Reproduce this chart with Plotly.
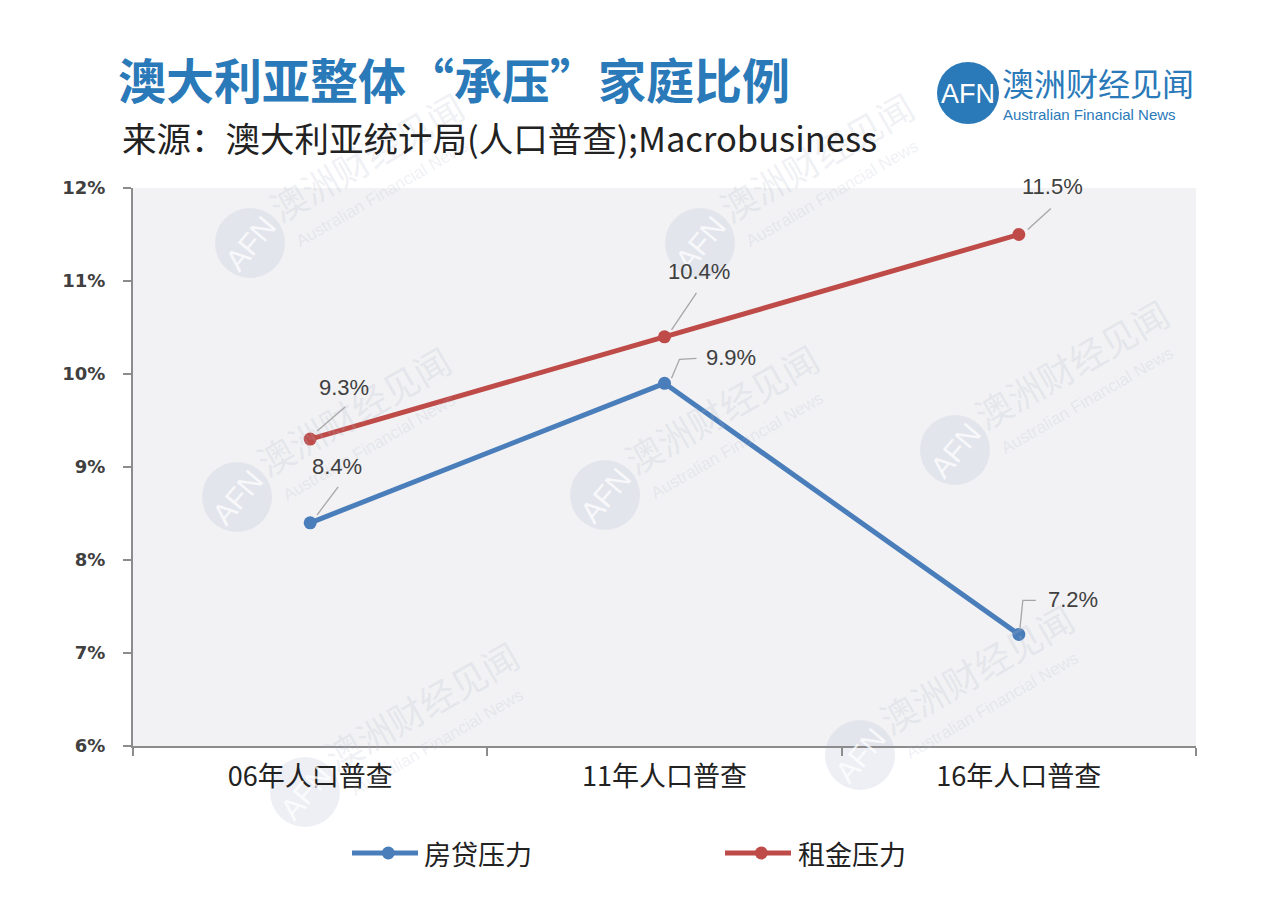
import plotly.graph_objects as go

# ---------------- data ----------------
categories = ["06年人口普查", "11年人口普查", "16年人口普查"]
mortgage_stress = [8.4, 9.9, 7.2]   # 房贷压力 (%)
rent_stress = [9.3, 10.4, 11.5]     # 租金压力 (%)
series_names = ["房贷压力", "租金压力"]
y_tick_values = [6, 7, 8, 9, 10, 11, 12]
y_tick_labels = ["6%", "7%", "8%", "9%", "10%", "11%", "12%"]

title_text = "澳大利亚整体“承压”家庭比例"
subtitle_text = "来源：澳大利亚统计局(人口普查);Macrobusiness"

# ---------------- styling / layout ----------------
W, H = 1280, 905
L, R, T, B = 133, 84, 188, 159
PW, PH = W - L - R, H - T - B

BLUE = "#4a7ebb"
RED = "#be4b48"
BRAND = "#2a79b8"
CJK = "Noto Sans CJK SC"
series_colors = [BLUE, RED]


def px(x):
    return (x - L) / PW


def py(y):
    return (H - B - y) / PH


# label offsets (pixels, right / up) and leader paths for each point
mortgage_label_off = [(27, 56), (66, 26), (54, 35)]
rent_label_off = [(34, 52), (34, 65), (34, 48)]
mortgage_leaders = [[(7, 8), (28, 36)], [(7, 5), (15, 24), (32, 25)], [(1, 5), (4, 34), (17, 34)]]
rent_leaders = [[(7, 8), (35, 32)], [(7, 7), (32, 44)], [(9, 5), (32, 26)]]

fig = go.Figure()

for name, vals, col in zip(series_names, [mortgage_stress, rent_stress], series_colors):
    fig.add_trace(go.Scatter(
        x=categories, y=vals, name=name, mode="lines+markers",
        line=dict(color=col, width=5), marker=dict(color=col, size=13),
        hoverinfo="skip", showlegend=False))

shapes = []
annotations = []


def note(x, y, text, font, **kw):
    d = dict(xref="paper", yref="paper", x=px(x), y=py(y), text=text, showarrow=False,
             xanchor="center", yanchor="middle", font=font)
    d.update(kw)
    annotations.append(d)


# ---- watermarks (faint) ----
wm_centers = [(250, 243), (237, 497), (700, 243), (605, 495), (955, 450), (860, 755), (305, 792)]
for cx, cy in wm_centers:
    shapes.append(dict(type="circle", xref="paper", yref="paper",
                       xsizemode="pixel", ysizemode="pixel",
                       xanchor=px(cx), yanchor=py(cy), x0=-35, x1=35, y0=-35, y1=35,
                       fillcolor="rgba(185,192,215,0.26)", line=dict(width=0), layer="below"))
    note(cx, cy, "AFN", dict(family="Liberation Sans", size=30, color="rgba(255,255,255,0.75)"),
         textangle=-50)
    note(cx + 116, cy - 87, "澳洲财经见闻", dict(family=CJK, size=36, color="rgba(175,182,200,0.2)"),
         textangle=-30)
    note(cx + 132, cy - 50, "Australian Financial News",
         dict(family="Liberation Sans", size=17, color="rgba(175,182,200,0.2)"), textangle=-30)

# ---- data labels + leader lines ----
for vals, offs, leaders in [(mortgage_stress, mortgage_label_off, mortgage_leaders),
                            (rent_stress, rent_label_off, rent_leaders)]:
    for cat, v, (dx, dy), pts in zip(categories, vals, offs, leaders):
        path = "M " + " L ".join(f"{a},{b}" for a, b in pts)
        shapes.append(dict(type="path", xref="x", yref="y", xsizemode="pixel", ysizemode="pixel",
                           xanchor=cat, yanchor=v, path=path,
                           line=dict(color="#a6a6a6", width=1.3)))
        annotations.append(dict(x=cat, y=v, xref="x", yref="y", text=f"{v:.1f}%",
                                showarrow=False, xshift=dx, yshift=dy,
                                xanchor="center", yanchor="middle",
                                font=dict(family="Liberation Sans", size=22, color="#404040")))

# ---- legend (drawn below the axis) ----
legend_line_x = [(352, 418), (725, 791)]
legend_text_x = [422, 796]
LEG_Y = 853
for name, col, (x0, x1), tx in zip(series_names, series_colors, legend_line_x, legend_text_x):
    shapes.append(dict(type="line", xref="paper", yref="paper", x0=px(x0), x1=px(x1),
                       y0=py(LEG_Y), y1=py(LEG_Y), line=dict(color=col, width=5)))
    mx = x0 + 0.55 * (x1 - x0)
    shapes.append(dict(type="circle", xref="paper", yref="paper", xsizemode="pixel", ysizemode="pixel",
                       xanchor=px(mx), yanchor=py(LEG_Y), x0=-6.5, x1=6.5, y0=-6.5, y1=6.5,
                       fillcolor=col, line=dict(width=0)))
    note(tx, LEG_Y, name, dict(family=CJK, size=27, color="#222222"), xanchor="left")

# ---- title / subtitle ----
note(116, 78, f"<b>{title_text}</b>", dict(family=CJK, size=48, color=BRAND), xanchor="left")
note(120, 137, subtitle_text, dict(family=CJK, size=34.5, color="#222222"), xanchor="left")

# ---- logo ----
shapes.append(dict(type="circle", xref="paper", yref="paper", xsizemode="pixel", ysizemode="pixel",
                   xanchor=px(968), yanchor=py(93), x0=-31, x1=31, y0=-31, y1=31,
                   fillcolor=BRAND, line=dict(width=0)))
note(968, 94, "AFN", dict(family="Liberation Sans", size=27, color="white"))
note(1000, 82, "澳洲财经见闻", dict(family=CJK, size=32, color=BRAND), xanchor="left")
note(1001, 114.5, "Australian Financial News", dict(family="Liberation Sans", size=15, color=BRAND),
     xanchor="left")

fig.update_layout(
    width=W, height=H, autosize=False,
    margin=dict(l=L, r=R, t=T, b=B, pad=0),
    paper_bgcolor="white", plot_bgcolor="#f2f2f4",
    showlegend=False,
    shapes=shapes, annotations=annotations,
    xaxis=dict(type="category", range=[-0.5, 2.5], tickson="boundaries",
               showline=True, linecolor="#8c8c8c", linewidth=2,
               ticks="outside", ticklen=8, tickwidth=2, tickcolor="#8c8c8c",
               showgrid=False, zeroline=False, ticklabelstandoff=6,
               tickfont=dict(family=CJK, size=27, color="#222222")),
    yaxis=dict(range=[6, 12], tickvals=y_tick_values, ticktext=y_tick_labels,
               showline=True, linecolor="#8c8c8c", linewidth=2,
               ticks="outside", ticklen=8, tickwidth=2, tickcolor="#8c8c8c",
               showgrid=False, zeroline=False, ticklabelstandoff=14,
               tickfont=dict(family="DejaVu Sans", size=18, color="#404040", weight="bold")),
)

fig.write_html("out.html", config={"displayModeBar": False},
               post_script="document.body.style.margin='0';document.body.style.padding='0';")
